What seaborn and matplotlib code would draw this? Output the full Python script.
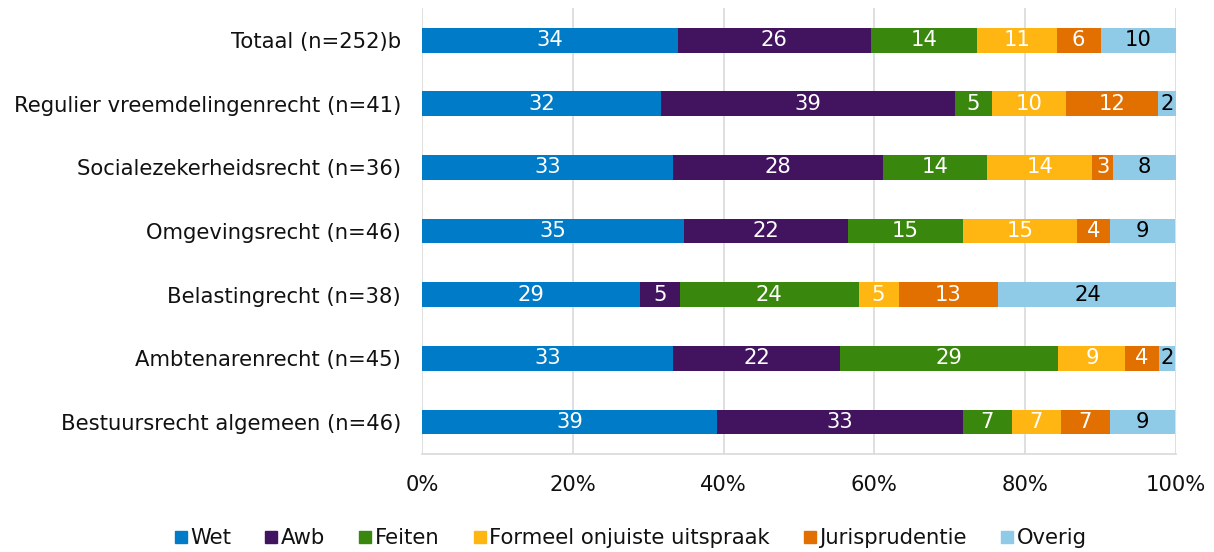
import numpy as np
import pandas as pd
import matplotlib.pyplot as plt
import seaborn as sns
from matplotlib.lines import Line2D

categories = [
    "Totaal (n=252)b",
    "Regulier vreemdelingenrecht (n=41)",
    "Socialezekerheidsrecht (n=36)",
    "Omgevingsrecht (n=46)",
    "Belastingrecht (n=38)",
    "Ambtenarenrecht (n=45)",
    "Bestuursrecht algemeen (n=46)",
]

series_names = ["Wet", "Awb", "Feiten", "Formeel onjuiste uitspraak", "Jurisprudentie", "Overig"]

wet = [33.9, 31.7, 33.3, 34.8, 28.9, 33.3, 39.1]
awb = [25.6, 39.0, 27.8, 21.7, 5.3, 22.2, 32.6]
feiten = [14.1, 4.9, 13.9, 15.2, 23.7, 28.9, 6.5]
formeel = [10.6, 9.8, 13.9, 15.2, 5.3, 8.9, 6.5]
jurisprudentie = [5.8, 12.2, 2.8, 4.3, 13.2, 4.4, 6.5]
overig = [10.0, 2.4, 8.3, 8.7, 23.7, 2.2, 8.7]

colors = ["#007BC7", "#42145F", "#39870C", "#FFB612", "#E17000", "#8FCAE7"]
text_colors = ["white", "white", "white", "white", "white", "black"]

df = pd.DataFrame(
    {name: vals for name, vals in zip(series_names, [wet, awb, feiten, formeel, jurisprudentie, overig])},
    index=categories,
)
cum = df.cumsum(axis=1)

sns.set_theme(style="white")
plt.rcParams["font.family"] = ["DejaVu Sans"]
fs = 15.2

fig, ax = plt.subplots(figsize=(12.14, 5.52), dpi=100)

# draw cumulative bars from the right-most segment down so they stack
for name, color in reversed(list(zip(series_names, colors))):
    plot_df = pd.DataFrame({"Categorie": categories, "Waarde": cum[name].values})
    sns.barplot(
        data=plot_df, x="Waarde", y="Categorie", orient="h",
        color=color, width=0.39, ax=ax, saturation=1, linewidth=0, zorder=3,
    )

for i, cat in enumerate(categories):
    left = 0
    for name, tcol in zip(series_names, text_colors):
        val = df.loc[cat, name]
        ax.text(left + val / 2, i, f"{int(val + 0.5)}", ha="center", va="center",
                color=tcol, fontsize=fs, zorder=4)
        left += val

ax.set_xlim(0, 100)
ax.set_ylim(6.5, -0.5)
ax.set_xticks(np.arange(0, 101, 20))
ax.set_xticklabels([f"{t}%" for t in range(0, 101, 20)])
ax.xaxis.grid(True, color="#D9D9D9", linewidth=1.2, zorder=0)
ax.set_xlabel("")
ax.set_ylabel("")
ax.tick_params(axis="x", labelsize=fs, pad=15, length=0, labelcolor="#111111")
ax.tick_params(axis="y", labelsize=fs, pad=15, length=0, labelcolor="#111111")
for side in ["top", "right", "left"]:
    ax.spines[side].set_visible(False)
ax.spines["bottom"].set_color("#D9D9D9")
ax.spines["bottom"].set_linewidth(1.2)

handles = [Line2D([0], [0], marker="s", linestyle="", markersize=9,
                  markerfacecolor=c, markeredgecolor=c) for c in colors]
fig.legend(handles, series_names, loc="center", bbox_to_anchor=(0.518, 0.025),
           ncol=6, frameon=False, fontsize=fs, handletextpad=0.0,
           columnspacing=1.45, handlelength=0.9, labelcolor="#111111")

fig.subplots_adjust(left=0.3476, right=0.9687, top=0.985, bottom=0.178)
fig.savefig("out.png", dpi=100)
